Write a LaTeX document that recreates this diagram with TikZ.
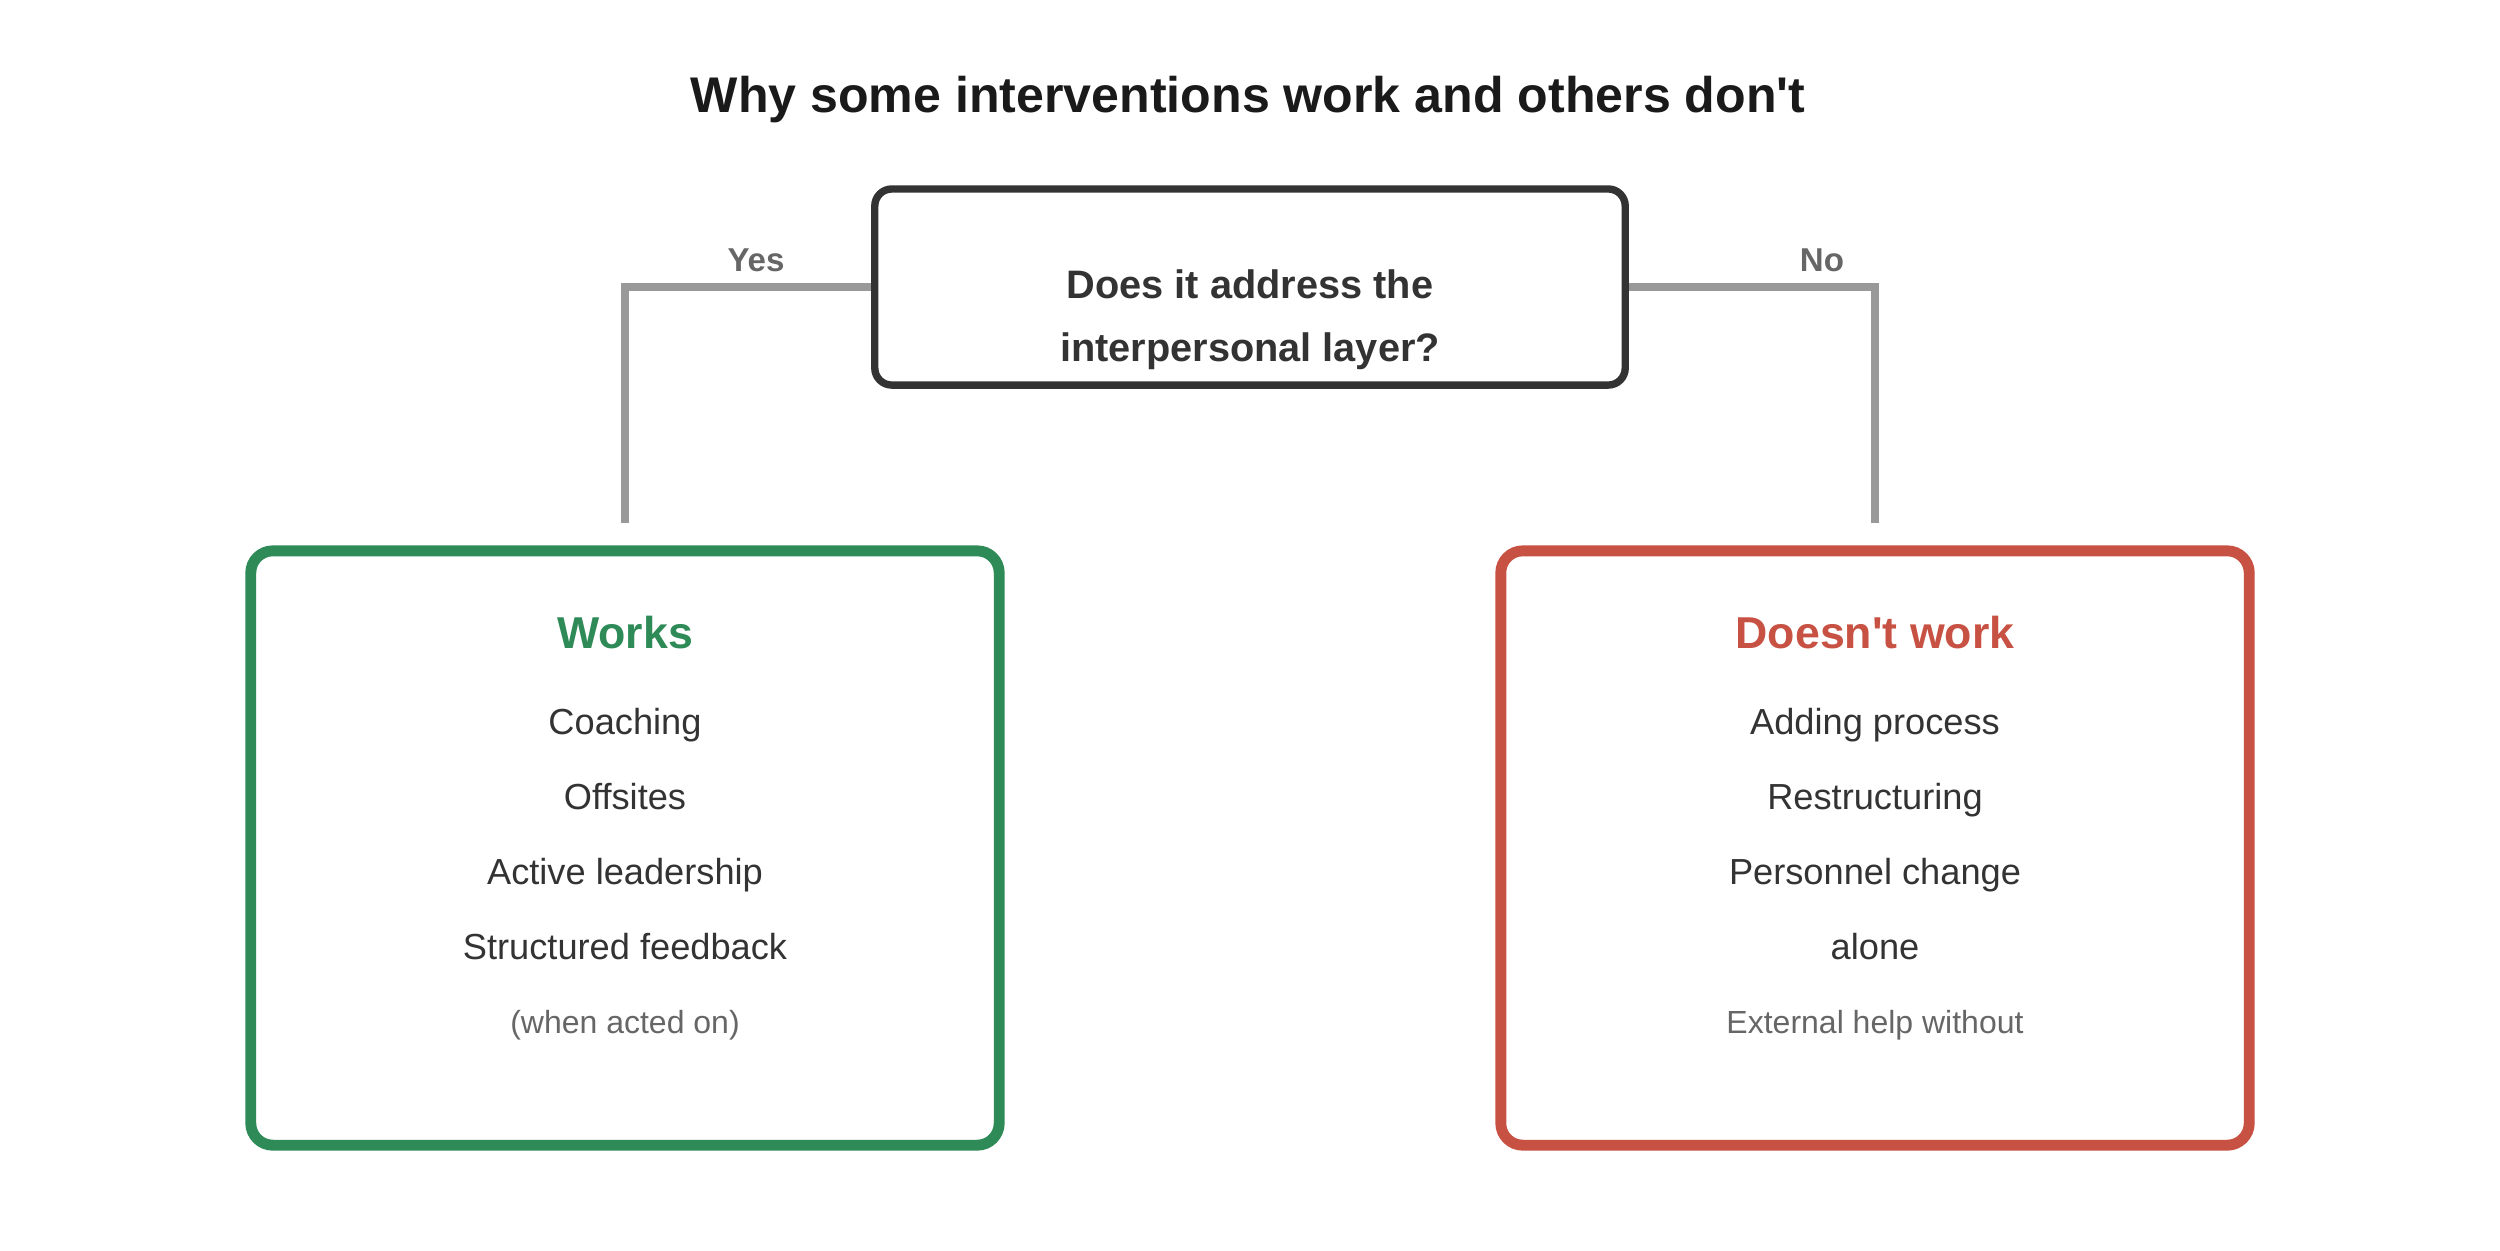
\documentclass[tikz,border=0pt]{standalone}
\usepackage{fontspec}
\setmainfont{Liberation Sans}
\definecolor{ink}{RGB}{51,51,51}
\definecolor{titleink}{RGB}{26,26,26}
\definecolor{wire}{RGB}{153,153,153}
\definecolor{muted}{RGB}{102,102,102}
\definecolor{goodgreen}{RGB}{46,139,87}
\definecolor{badred}{RGB}{199,81,66}
\tikzset{
  qbox/.style={draw=ink, line width=2.1pt, rounded corners=0.17cm, minimum width=7.5cm, minimum height=1.96cm, inner sep=0pt},
  panel/.style={line width=3.1pt, rounded corners=0.22cm, minimum width=7.48cm, minimum height=5.94cm, inner sep=0pt},
  wireline/.style={draw=wire, line width=2.1pt},
  titletext/.style={anchor=base, text=titleink, font=\fontsize{14.25}{17}\selectfont\bfseries},
  qtext/.style={anchor=base, text=ink, font=\fontsize{11.3}{13}\selectfont\bfseries},
  branch/.style={anchor=base, text=muted, font=\fontsize{9.4}{11}\selectfont\bfseries},
  panelhead/.style={anchor=base, font=\fontsize{12.7}{15}\selectfont\bfseries},
  item/.style={anchor=base, text=ink, font=\fontsize{10.3}{12}\selectfont},
  note/.style={anchor=base, text=muted, font=\fontsize{9.1}{11}\selectfont}
}
\begin{document}
\begin{tikzpicture}[x=0.01cm, y=-0.01cm]
\useasboundingbox (0,0) rectangle (2500,1250);
\node[titletext] (title) at (1248,112) {Why some interventions work and others don\textquotesingle t};
\node[qbox] (q) at (1250,287) {};
\node[qtext] (q1) at (1250,298) {Does it address the};
\node[qtext] (q2) at (1250,361) {interpersonal layer?};
\coordinate (yesend) at (625,523);
\coordinate (noend) at (1875,523);
\draw[wireline] (q.west) -| (yesend);
\draw[wireline] (q.east) -| (noend);
\node[branch] (yes) at (756,271) {Yes};
\node[branch] (no) at (1822,271) {No};

\node[panel, draw=goodgreen] (works) at (625,848) {};
\node[panelhead, text=goodgreen] (workshead) at (625,648) {Works};
\node[item] (w1) at (625,734) {Coaching};
\node[item] (w2) at (625,809) {Offsites};
\node[item] (w3) at (625,884) {Active leadership};
\node[item] (w4) at (625,959) {Structured feedback};
\node[note] (w5) at (625,1033) {(when acted on)};

\node[panel, draw=badred] (fails) at (1875,848) {};
\node[panelhead, text=badred] (failshead) at (1875,648) {Doesn\textquotesingle t work};
\node[item] (f1) at (1875,734) {Adding process};
\node[item] (f2) at (1875,809) {Restructuring};
\node[item] (f3) at (1875,884) {Personnel change};
\node[item] (f4) at (1875,959) {alone};
\node[note] (f5) at (1875,1033) {External help without};
\end{tikzpicture}
\end{document}
